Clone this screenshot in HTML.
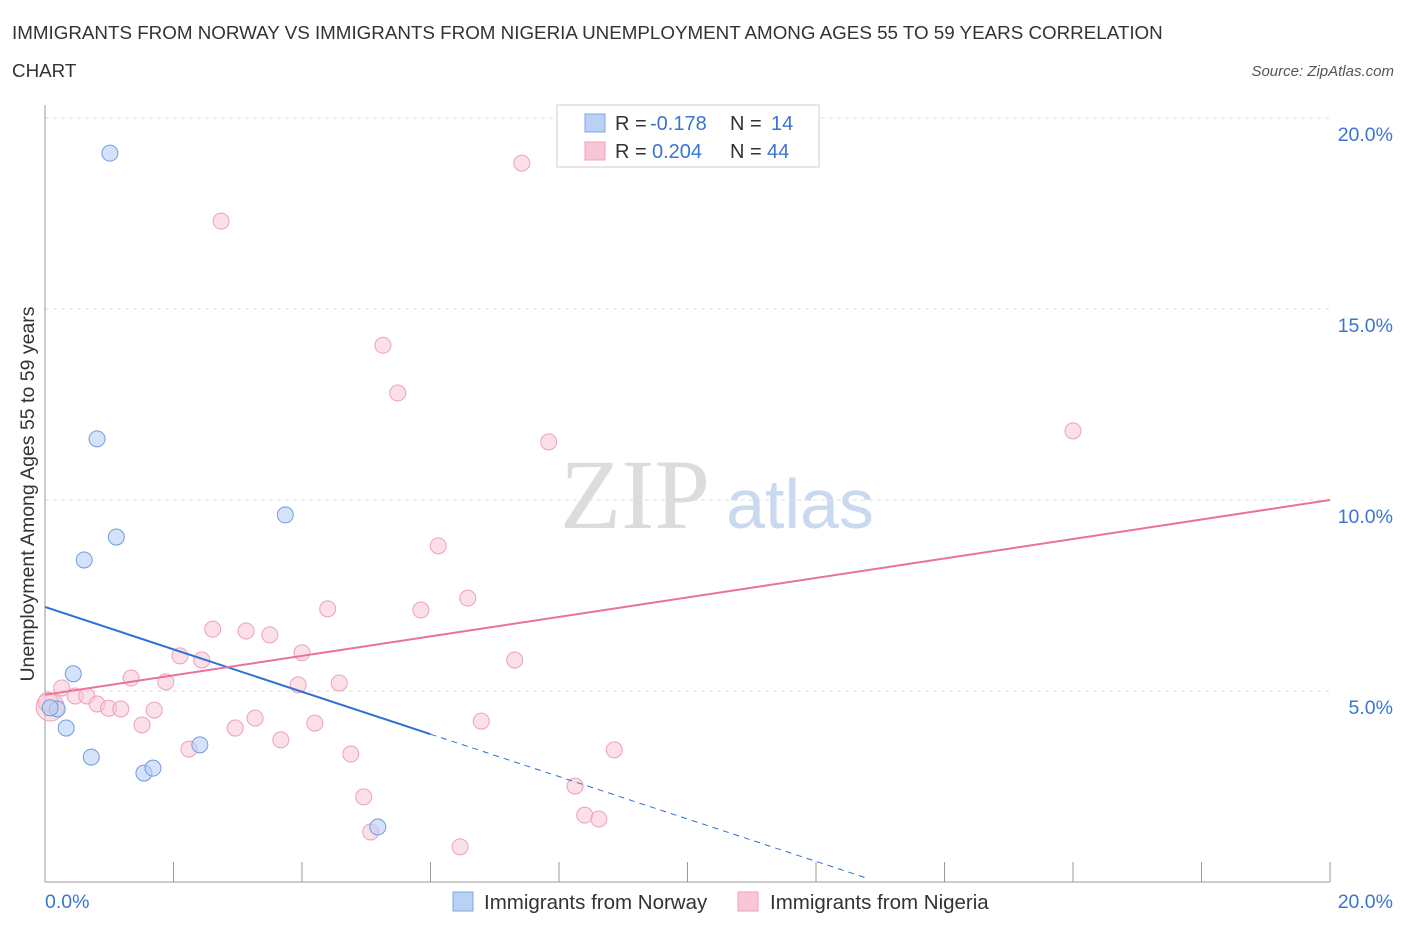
<!DOCTYPE html>
<html><head><meta charset="utf-8"><style>
body{margin:0;background:#fff;font-family:"Liberation Sans",sans-serif}
svg text{font-family:"Liberation Sans",sans-serif}
</style></head><body>
<svg id="c" width="1406" height="930">
<text x="12" y="39" font-size="18.8" fill="#333">IMMIGRANTS FROM NORWAY VS IMMIGRANTS FROM NIGERIA UNEMPLOYMENT AMONG AGES 55 TO 59 YEARS CORRELATION</text>
<text x="12" y="77" font-size="18.8" fill="#333">CHART</text>
<text x="1394" y="76" font-size="15" fill="#555" text-anchor="end" font-style="italic">Source: ZipAtlas.com</text>
<text x="635" y="528" font-size="100" fill="#dcdcdc" style="font-family:'Liberation Serif',serif" text-anchor="middle">ZIP</text>
<text x="800" y="528" font-size="70" fill="#c9d9ef" text-anchor="middle">atlas</text>
<g id="grid"></g><g id="pts"></g><g id="lines"></g>
<text x="34" y="494" font-size="19.5" fill="#333" text-anchor="middle" transform="rotate(-90 34 494)">Unemployment Among Ages 55 to 59 years</text>
<g>
<rect x="557" y="105" width="262" height="62" fill="#fff" stroke="#ccc"/>
<rect x="585" y="114" width="20" height="18" fill="#b8d1f5" stroke="#7fa8e0"/>
<text x="615" y="130" font-size="20" fill="#333">R =</text>
<text x="650" y="130" font-size="20" fill="#3a75d4">-0.178</text>
<text x="730" y="130" font-size="20" fill="#333">N =</text>
<text x="771" y="130" font-size="20" fill="#3a75d4">14</text>
<rect x="585" y="142" width="20" height="18" fill="#f9c6d5" stroke="#eea0b8"/>
<text x="615" y="158" font-size="20" fill="#333">R =</text>
<text x="652" y="158" font-size="20" fill="#3a75d4">0.204</text>
<text x="730" y="158" font-size="20" fill="#333">N =</text>
<text x="767" y="158" font-size="20" fill="#3a75d4">44</text>
</g>
<g>
<rect x="453" y="892" width="20" height="19" fill="#b8d1f5" stroke="#7fa8e0"/>
<text x="484" y="909" font-size="20.5" fill="#333">Immigrants from Norway</text>
<rect x="738" y="892" width="20" height="19" fill="#f9c6d5" stroke="#eea0b8"/>
<text x="770" y="909" font-size="20.5" fill="#333">Immigrants from Nigeria</text>
</g>
</svg>
<script>
const yTicks=[5,10,15,20];
const xTickLabels=["0.0%","20.0%"];
const norwayX=[1.01,0.81,1.11,0.61,3.74,0.44,0.19,0.33,0.72,1.54,1.68,2.41,5.18,0.08];
const norwayY=[19.08,11.60,9.03,8.43,9.61,5.45,4.53,4.03,3.27,2.85,2.98,3.59,1.44,4.56];
const nigeriaX=[7.42,2.74,5.26,5.49,7.84,16.00,6.12,6.58,4.40,5.85,2.61,3.13,3.50,4.00,2.10,2.44,7.31,1.34,1.88,3.94,4.58,0.26,0.47,0.65,0.81,0.99,1.18,1.70,1.51,3.27,4.20,2.96,6.79,3.67,2.24,4.76,8.86,8.25,4.96,8.40,8.62,5.07,6.46,0.08,0.05];
const nigeriaY=[18.82,17.30,14.05,12.80,11.52,11.81,8.80,7.43,7.15,7.12,6.62,6.57,6.47,6.00,5.92,5.81,5.81,5.34,5.24,5.16,5.21,5.08,4.87,4.87,4.66,4.55,4.53,4.50,4.11,4.29,4.16,4.03,4.21,3.72,3.48,3.35,3.46,2.51,2.23,1.75,1.65,1.31,0.92,4.58,4.71];
const norwayTrend=[7.2,-0.555];
const nigeriaTrend=[4.9,10.0];
const X=v=>45+v/20*1285, Y=v=>882-v/5*191;
const NS="http://www.w3.org/2000/svg";
function mk(t,a,p){const e=document.createElementNS(NS,t);for(const k in a)e.setAttribute(k,a[k]);p.appendChild(e);return e;}
const g=document.getElementById('grid');
yTicks.forEach(t=>{
 const l=mk('line',{x1:45,x2:1330,y1:Y(t),y2:Y(t),stroke:'#ddd','stroke-dasharray':'4,4'},g);
 
 
 const tx=mk('text',{x:1393,y:Y(t)+23,'font-size':19.5,fill:'#3a75d4','text-anchor':'end'},g);
 tx.textContent=t.toFixed(1)+'%';
 
 
});
const ax=mk('line',{x1:45,x2:45,y1:105,y2:882,stroke:'#999'},g);


const bx=mk('line',{x1:45,x2:1330,y1:882,y2:882,stroke:'#999'},g);


for(let i=0;i<=10;i++){const tk=mk('line',{x1:X(i*2),x2:X(i*2),y1:862,y2:882,stroke:'#999'},g);
 
 }
[[0,'start',45],[1,'end',1393]].forEach(([i,a,x])=>{const t=mk('text',{x:x,y:908,'font-size':19.5,fill:'#3a75d4','text-anchor':a},g);t.textContent=xTickLabels[i];
 
 });
const p=document.getElementById('pts');
nigeriaX.forEach((v,i)=>{const r=i>=43?(i==43?14:10):8;
 const c=mk('circle',{cx:X(v),cy:Y(nigeriaY[i]),r:r,fill:'rgba(249,198,213,0.55)',stroke:'#eea0b8','stroke-width':1},p);
 
 });
norwayX.forEach((v,i)=>{const c=mk('circle',{cx:X(v),cy:Y(norwayY[i]),r:8,fill:'rgba(184,209,245,0.6)',stroke:'#6f9ce0','stroke-width':1},p);
 
 });
const L=document.getElementById('lines');
const nf=x=>norwayTrend[0]+norwayTrend[1]*x;
const b1=mk('line',{x1:X(0),y1:Y(nf(0)),x2:X(6),y2:Y(nf(6)),stroke:'#2f6fd6','stroke-width':2},L);


const b2=mk('line',{x1:X(6),y1:Y(nf(6)),x2:X(12.8),y2:Y(nf(12.8)),stroke:'#2f6fd6','stroke-width':1,'stroke-dasharray':'6,5'},L);


const pl=mk('line',{x1:X(0),y1:Y(nigeriaTrend[0]),x2:X(20),y2:Y(nigeriaTrend[1]),stroke:'#e8729a','stroke-width':2},L);


</script>
</body></html>
